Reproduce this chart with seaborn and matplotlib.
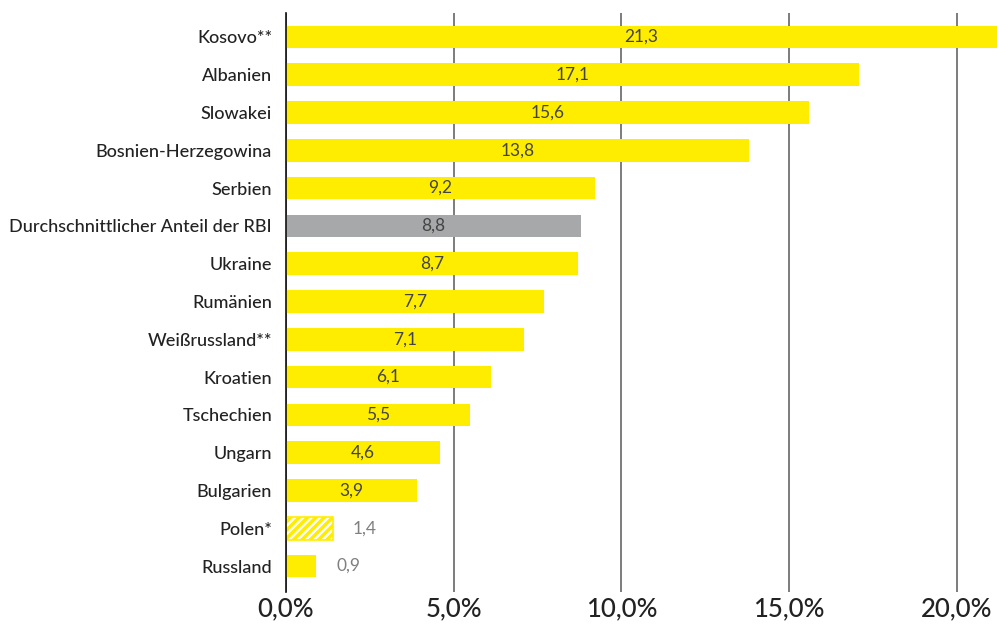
import matplotlib
matplotlib.use("Agg")
import matplotlib.pyplot as plt
import seaborn as sns
import pandas as pd

categories = ["Kosovo**", "Albanien", "Slowakei", "Bosnien-Herzegowina", "Serbien",
              "Durchschnittlicher Anteil der RBI", "Ukraine", "Rumänien", "Weißrussland**",
              "Kroatien", "Tschechien", "Ungarn", "Bulgarien", "Polen*", "Russland"]
values = [21.3, 17.1, 15.6, 13.8, 9.2, 8.8, 8.7, 7.7, 7.1, 6.1, 5.5, 4.6, 3.9, 1.4, 0.9]
value_labels = ["21,3", "17,1", "15,6", "13,8", "9,2", "8,8", "8,7", "7,7", "7,1",
                "6,1", "5,5", "4,6", "3,9", "1,4", "0,9"]
xticks = [0, 5, 10, 15, 20]
xtick_labels = ["0,0%", "5,0%", "10,0%", "15,0%", "20,0%"]

YELLOW = "#FFED00"
GREY = "#A7A8AA"
colors = {c: (GREY if c.startswith("Durchschnitt") else YELLOW) for c in categories}

sns.set_style("white")
plt.rcParams["font.family"] = ["Lato", "DejaVu Sans"]
plt.rcParams["hatch.linewidth"] = 2.5

df = pd.DataFrame({"cat": categories, "val": values})

fig = plt.figure(figsize=(9.97, 6.28), dpi=100)
ax = fig.add_axes([286 / 997, 1 - 592 / 628, 1 - 286 / 997, (592 - 13) / 628])

sns.barplot(data=df, x="val", y="cat", hue="cat", palette=colors, legend=False,
            width=0.6, ax=ax, zorder=3, saturation=1, edgecolor="none")

xmax = 21.2
ax.set_xlim(0, xmax)
ax.set_ylim(14.5 + 7 / 37.8, -0.5 - 5 / 37.8)

# hatched Polen bar
idx = categories.index("Polen*")
p = ax.patches[idx]
p.set_facecolor("white")
p.set_edgecolor(YELLOW)
p.set_hatch("////")
p.set_linewidth(1.2)

for i, (v, lab) in enumerate(zip(values, value_labels)):
    if v < 2:
        ax.text(v + 0.95, i, lab, ha="center", va="center", fontsize=12.5,
                color="#808080", fontweight="normal", zorder=5)
    else:
        ax.text(min(v, xmax) / 2, i, lab, ha="center", va="center", fontsize=12.5,
                color="#444444", fontweight="normal", zorder=5)

ax.set_xticks(xticks)
ax.set_xticklabels(xtick_labels, fontsize=18.5, color="#222222", fontweight="medium")
ax.tick_params(axis="x", length=0, pad=3)
ax.tick_params(axis="y", length=0, pad=10)
for t in ax.get_yticklabels():
    t.set_fontsize(13)
    t.set_color("#222222")
    t.set_fontweight("medium")
ax.grid(axis="x", color="#666666", linewidth=1.2, zorder=0)
ax.grid(axis="y", visible=False)
ax.set_xlabel("")
ax.set_ylabel("")
for s in ["top", "right", "bottom"]:
    ax.spines[s].set_visible(False)
ax.spines["left"].set_color("#111111")
ax.spines["left"].set_linewidth(1.2)
ax.spines["left"].set_zorder(6)

fig.savefig("out.png", dpi=100)
